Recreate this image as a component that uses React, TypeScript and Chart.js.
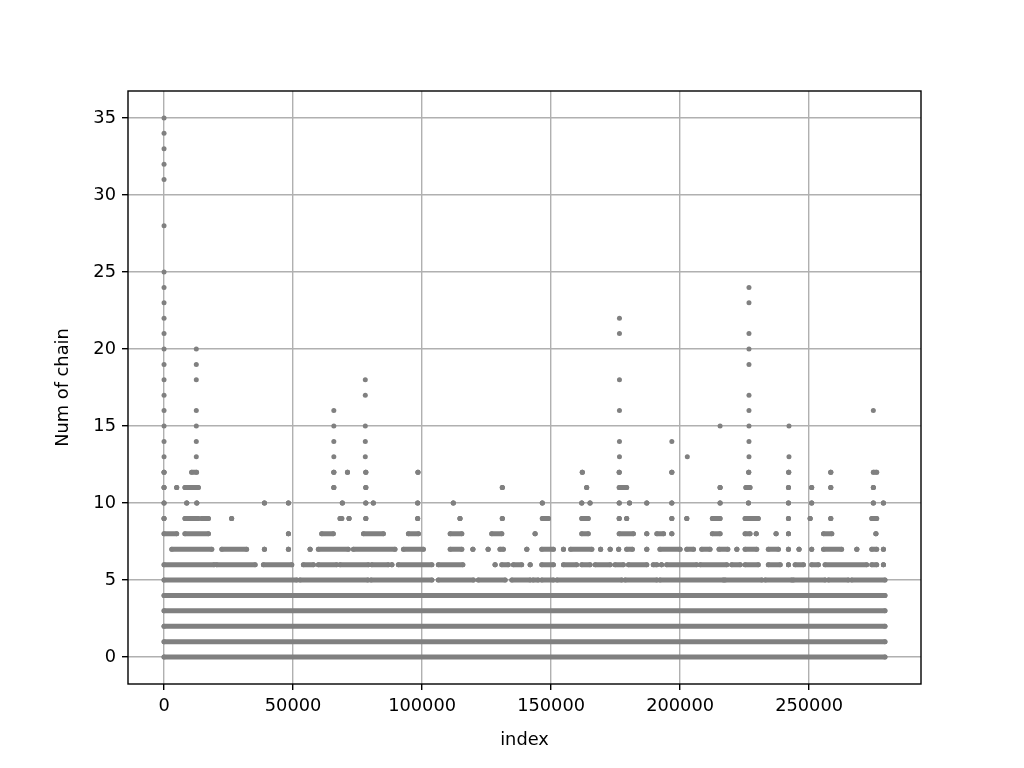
import React, { useEffect, useRef } from 'react';
import { Chart, registerables } from 'chart.js';

Chart.register(...registerables);

// ---- data ----
const xTicks = [0, 50000, 100000, 150000, 200000, 250000];
const yTicks = [0, 5, 10, 15, 20, 25, 30, 35];
const lastIndex = 279400;

// levels 0..4 are filled with points over the whole index range
const fullLevels = [0, 1, 2, 3, 4];

// runs of consecutive points [fromIndex, toIndex] for each level
const runsLevel5: [number, number][] = [
  [0, 51400], [52700, 79000], [80200, 103800], [106300, 119900], [121800, 132200],
  [134800, 141900], [143000, 145000], [146400, 150900], [152300, 177400], [178700, 191000],
  [192200, 216800], [217400, 231700], [233000, 243300], [243900, 256200], [257500, 265200],
  [266500, 279400],
];
const runsLevel6: [number, number][] = [
  [0, 19400], [20400, 35300], [38500, 49500], [54000, 57900], [59800, 66900],
  [68200, 79200], [80500, 86900], [88300, 88300], [90800, 103800], [106300, 115800], [128300, 128300],
  [130900, 133400], [135400, 138600], [141900, 141900], [146400, 150900], [154800, 159900],
  [161900, 165100], [167100, 172900], [174800, 178000], [180000, 187100], [189600, 191000],
  [192800, 192800], [194800, 206400], [207800, 218100], [220000, 223300], [225200, 230300],
  [234200, 238800], [242000, 242000], [244600, 247800], [251000, 253600], [256200, 272300],
  [274300, 276200], [278800, 278800],
];
const runsLevel7: [number, number][] = [
  [3000, 18500], [22400, 32000], [38900, 38900], [48200, 48200], [56600, 56600],
  [59800, 71400], [73400, 89500], [92800, 100500], [110900, 115400], [119700, 119700], [125600, 125600],
  [130200, 131500], [140600, 140600], [146400, 150900], [154800, 154800], [157600, 165800],
  [169200, 169200], [172900, 172900], [176200, 176200], [179300, 181500], [187100, 187100],
  [192200, 200000], [202600, 205200], [208400, 211600], [215100, 218500], [222000, 222000],
  [225200, 229700], [234200, 238100], [242000, 242000], [246100, 246100], [251000, 251000],
  [255600, 262600], [268500, 268500], [274300, 276200], [278800, 278800],
];
const runsLevel8: [number, number][] = [
  [0, 4900], [8100, 17200], [48200, 48200], [61100, 65600], [77300, 85000],
  [94700, 98600], [110900, 115400], [127000, 130900], [143800, 143800], [161900, 164400],
  [176400, 181900], [187100, 187100], [191000, 193600], [196800, 196800], [212500, 215500],
  [225200, 227100], [229500, 229500], [237200, 237200], [242000, 242000], [255600, 258800],
  [275900, 275900],
];
const runsLevel9: [number, number][] = [
  [0, 0], [8100, 13300], [14600, 17200], [26200, 26200], [68200, 68900], [71700, 71700],
  [78200, 78200], [98300, 98300], [114700, 114700], [131100, 131100], [146600, 149000],
  [161900, 164400], [176400, 176400], [179300, 179300], [196800, 196800], [202600, 202600],
  [212500, 215500], [225200, 230300], [242000, 242000], [250400, 250400], [258400, 258400],
  [274300, 276200],
];
const runsLevel10: [number, number][] = [
  [0, 0], [8800, 8800], [12700, 12700], [38900, 38900], [48200, 48200], [69100, 69100],
  [78200, 78200], [81100, 81100], [98300, 98300], [112100, 112100], [146600, 146600],
  [161900, 161900], [165100, 165100], [176400, 176400], [180400, 180400], [187100, 187100],
  [196800, 196800], [215500, 215500], [226500, 226500], [242000, 242000], [251000, 251000],
  [274900, 274900], [278800, 278800],
];
const runsLevel11: [number, number][] = [
  [0, 0], [4900, 4900], [8100, 13300], [65800, 65800], [78200, 78200], [131100, 131100],
  [163800, 163800], [176400, 179300], [215500, 215500], [225500, 227100], [242000, 242000],
  [251000, 251000], [258400, 258400], [274900, 274900],
];
const runsLevel12: [number, number][] = [
  [0, 0], [10700, 12600], [65800, 65800], [71100, 71100], [78200, 78200], [98400, 98400],
  [162100, 162100], [176400, 176400], [196800, 196800], [226600, 226600], [242100, 242100],
  [258400, 258400], [274900, 276200],
];

// isolated high points [index, num of chain]
const tallPoints: [number, number][] = [
  [0, 13], [0, 14], [0, 15], [0, 16], [0, 17], [0, 18], [0, 19], [0, 20], [0, 21], [0, 22],
  [0, 23], [0, 24], [0, 25], [0, 28], [0, 31], [0, 32], [0, 33], [0, 34], [0, 35],
  [12500, 13], [12500, 14], [12500, 15], [12500, 16], [12500, 18], [12500, 19], [12500, 20],
  [65800, 13], [65800, 14], [65800, 15], [65800, 16],
  [78000, 13], [78000, 14], [78000, 15], [78000, 17], [78000, 18],
  [176500, 13], [176500, 14], [176500, 16], [176500, 18], [176500, 21], [176500, 22],
  [196800, 14], [202800, 13], [215500, 15],
  [226700, 13], [226700, 14], [226700, 15], [226700, 16], [226700, 17], [226700, 19],
  [226700, 20], [226700, 21], [226700, 23], [226700, 24],
  [242200, 13], [242200, 15], [274900, 16],
];

// ---- helpers ----
type Pt = { x: number; y: number | null };
function runsToData(runs: [number, number][], level: number): Pt[] {
  const out: Pt[] = [];
  runs.forEach(([a, b]) => {
    out.push({ x: a, y: level }, { x: b, y: level }, { x: b, y: null });
  });
  return out;
}

const GRAY = '#808080';
const FONT = 'DejaVu Sans';
const FS = 17.8;

export default function App() {
  const ref = useRef<HTMLCanvasElement | null>(null);

  useEffect(() => {
    if (!ref.current) return;
    const levelRuns: [number, [number, number][]][] = [
      ...fullLevels.map((l) => [l, [[0, lastIndex]]] as [number, [number, number][]]),
      [5, runsLevel5], [6, runsLevel6], [7, runsLevel7], [8, runsLevel8],
      [9, runsLevel9], [10, runsLevel10], [11, runsLevel11], [12, runsLevel12],
    ];
    const datasets: any[] = levelRuns.map(([lvl, runs]) => ({
      data: runsToData(runs, lvl),
      showLine: true,
      spanGaps: false,
      borderColor: GRAY,
      backgroundColor: GRAY,
      borderWidth: 5,
      borderCapStyle: 'round',
      pointRadius: 2.5,
      pointBorderWidth: 0,
      pointHoverRadius: 2.5,
    }));
    datasets.push({
      data: tallPoints.map(([x, y]) => ({ x, y })),
      showLine: false,
      borderColor: GRAY,
      backgroundColor: GRAY,
      pointRadius: 2.5,
      pointBorderWidth: 0,
      pointHoverRadius: 2.5,
    });

    const frame = {
      id: 'frame',
      afterDraw(chart: any) {
        const { ctx, chartArea: a } = chart;
        ctx.save();
        ctx.strokeStyle = '#000';
        ctx.lineWidth = 1.4;
        ctx.strokeRect(a.left, a.top, a.right - a.left, a.bottom - a.top);
        ctx.restore();
      },
    };

    const chart = new Chart(ref.current, {
      type: 'scatter',
      data: { datasets },
      plugins: [frame],
      options: {
        responsive: false,
        animation: false,
        events: [],
        layout: { padding: { left: 0, top: 91, right: 103, bottom: 0 } },
        plugins: { legend: { display: false }, tooltip: { enabled: false } },
        scales: {
          x: {
            type: 'linear',
            z: 1,
            min: -0.05 * lastIndex,
            max: 1.05 * lastIndex,
            afterBuildTicks: (s: any) => {
              s.ticks = xTicks.map((v) => ({ value: v }));
            },
            afterFit: (s: any) => {
              s.height = 84;
            },
            grid: {
              color: '#b0b0b0',
              lineWidth: 1.4,
              drawTicks: true,
              tickLength: 6,
              tickColor: '#000',
              tickWidth: 1.4,
            },
            border: { display: false },
            ticks: {
              color: '#000',
              font: { family: FONT, size: FS },
              padding: 6,
              maxRotation: 0,
              autoSkip: false,
              callback: (v: any) => String(v),
            },
            title: {
              display: true,
              text: 'index',
              color: '#000',
              font: { family: FONT, size: FS },
              padding: { top: 0, bottom: 17 },
            },
          },
          y: {
            type: 'linear',
            z: 1,
            min: -1.75,
            max: 36.75,
            afterBuildTicks: (s: any) => {
              s.ticks = yTicks.map((v) => ({ value: v }));
            },
            afterFit: (s: any) => {
              s.width = 128;
            },
            grid: {
              color: '#b0b0b0',
              lineWidth: 1.4,
              drawTicks: true,
              tickLength: 6,
              tickColor: '#000',
              tickWidth: 1.4,
            },
            border: { display: false },
            ticks: {
              color: '#000',
              font: { family: FONT, size: FS },
              padding: 6,
              autoSkip: false,
              callback: (v: any) => String(v),
            },
            title: {
              display: true,
              text: 'Num of chain',
              color: '#000',
              font: { family: FONT, size: FS },
              padding: { top: 53, bottom: 0 },
            },
          },
        },
      } as any,
    });
    return () => chart.destroy();
  }, []);

  return (
    <div style={{ position: 'absolute', left: 0, top: 0, width: 1024, height: 768, background: '#fff' }}>
      <canvas ref={ref} width={1024} height={768} style={{ display: 'block' }} />
    </div>
  );
}
